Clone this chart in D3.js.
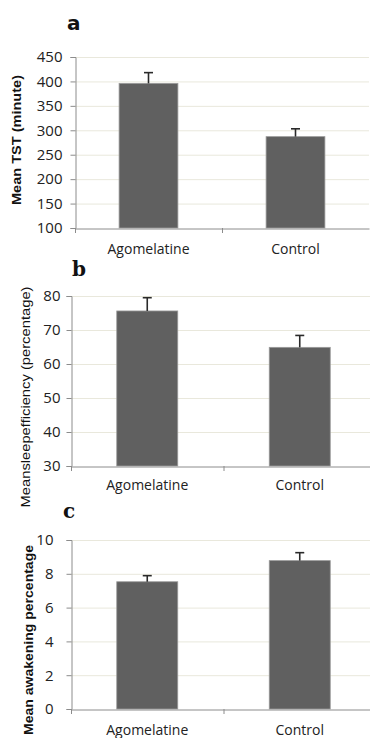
<!DOCTYPE html>
<html>
<head>
<meta charset="utf-8">
<script src="https://cdn.jsdelivr.net/npm/d3@7"></script>
<style>
  body { margin: 0; background: #fff; }
  svg { display: block; }
</style>
</head>
<body>
<div id="chart"></div>
<script>
// groups on the x axis
var groups = ["Agomelatine", "Control"];

// panel a: total sleep time
var tstMean = [396, 287];
var tstErr = [22, 16];
var tstTicks = [100, 150, 200, 250, 300, 350, 400, 450];

// panel b: sleep efficiency
var effMean = [75.6, 64.9];
var effErr = [3.9, 3.5];
var effTicks = [30, 40, 50, 60, 70, 80];

// panel c: awakening percentage
var awakeMean = [7.53, 8.78];
var awakeErr = [0.36, 0.47];
var awakeTicks = [0, 2, 4, 6, 8, 10];

var width = 370, height = 738;

var svg = d3.select("#chart").append("svg")
    .attr("width", width)
    .attr("height", height);

// draw one bar panel
function drawPanel(p) {
    var x = d3.scaleBand()
        .domain(groups)
        .range([p.left, p.right])
        .padding(0);

    var y = d3.scaleLinear()
        .domain([p.ticks[0], p.ticks[p.ticks.length - 1]])
        .range([p.bottom, p.top]);

    var g = svg.append("g");

    // gridlines
    g.selectAll("line.grid")
        .data(p.ticks.slice(1))
        .enter().append("line")
        .attr("class", "grid")
        .attr("x1", p.left)
        .attr("x2", p.right)
        .attr("y1", function(d) { return y(d) + 0.5; })
        .attr("y2", function(d) { return y(d) + 0.5; })
        .attr("stroke", "#e9e8dc")
        .attr("stroke-width", 1);

    // y axis
    var yAxis = g.append("g")
        .attr("transform", "translate(" + (p.left + 0.5) + ",0)")
        .call(d3.axisLeft(y).tickValues(p.ticks).tickSize(5).tickPadding(p.tickPad).tickFormat(d3.format("d")));
    yAxis.select(".domain").attr("stroke", "#8c8c8c");
    yAxis.selectAll(".tick line").attr("stroke", "#8c8c8c");
    yAxis.selectAll(".tick text")
        .attr("fill", "#222")
        .style("font-family", "'Open Sans', sans-serif")
        .style("font-size", "15px");

    // x axis
    var xAxis = g.append("g")
        .attr("transform", "translate(0," + (p.bottom + 0.5) + ")")
        .call(d3.axisBottom(x).tickSize(0).tickPadding(p.labelPad));
    xAxis.select(".domain").attr("stroke", "#8c8c8c");
    xAxis.selectAll(".tick text")
        .attr("fill", "#222")
        .style("font-family", "'Open Sans', sans-serif")
        .style("font-size", "14px");

    // category boundary ticks
    g.selectAll("line.sep")
        .data([0, 1])
        .enter().append("line")
        .attr("class", "sep")
        .attr("x1", function(d) { return p.left + d * x.step() + 0.5; })
        .attr("x2", function(d) { return p.left + d * x.step() + 0.5; })
        .attr("y1", p.bottom)
        .attr("y2", p.bottom + 5)
        .attr("stroke", "#8c8c8c");

    var bw = x.bandwidth() * 0.4;

    // bars
    g.selectAll("rect.bar")
        .data(p.mean)
        .enter().append("rect")
        .attr("class", "bar")
        .attr("x", function(d, i) { return x(groups[i]) + (x.bandwidth() - bw) / 2; })
        .attr("y", function(d) { return y(d); })
        .attr("width", bw)
        .attr("height", function(d) { return p.bottom - y(d); })
        .attr("fill", "#606060")
        .attr("stroke", "#9a9a9a")
        .attr("stroke-width", 0.8);

    // error bars, upper half only
    p.mean.forEach(function(m, i) {
        var cx = x(groups[i]) + x.bandwidth() / 2;
        g.append("line")
            .attr("x1", cx).attr("x2", cx)
            .attr("y1", y(m)).attr("y2", y(m + p.err[i]))
            .attr("stroke", "#2a2a2a").attr("stroke-width", 1.6);
        g.append("line")
            .attr("x1", cx - 4.5).attr("x2", cx + 4.5)
            .attr("y1", y(m + p.err[i])).attr("y2", y(m + p.err[i]))
            .attr("stroke", "#2a2a2a").attr("stroke-width", 1.6);
    });

    // y axis title, squeezed to the length seen in the figure
    g.append("text")
        .attr("transform", "translate(" + p.titleX + "," + p.titleY + ") rotate(-90)")
        .attr("text-anchor", "middle")
        .attr("textLength", p.titleLen)
        .attr("lengthAdjust", "spacingAndGlyphs")
        .style("font-family", "'Liberation Sans', Arial, sans-serif")
        .style("font-size", p.titleSize)
        .style("font-weight", p.titleWeight)
        .attr("fill", "#111")
        .text(p.title);

    // panel letter
    g.append("text")
        .attr("x", p.letterX)
        .attr("y", p.letterY)
        .style("font-family", p.letterFont)
        .style("font-size", "20px")
        .style("font-weight", "bold")
        .attr("fill", "#111")
        .text(p.letter);
}

drawPanel({
    mean: tstMean, err: tstErr, ticks: tstTicks,
    left: 75, right: 369, top: 57, bottom: 228,
    tickPad: 8, labelPad: 16,
    title: "Mean TST (minute)", titleX: 21, titleY: 140, titleLen: 130,
    titleSize: "12px", titleWeight: "bold",
    letter: "a", letterX: 67, letterY: 30, letterFont: "'DejaVu Sans', sans-serif"
});

drawPanel({
    mean: effMean, err: effErr, ticks: effTicks,
    left: 71, right: 376, top: 296, bottom: 466,
    tickPad: 6, labelPad: 14,
    title: "Meansleepefficiency (percentage)", titleX: 30, titleY: 397, titleLen: 221,
    titleSize: "12.5px", titleWeight: "normal",
    letter: "b", letterX: 72, letterY: 276, letterFont: "'DejaVu Serif', serif"
});

drawPanel({
    mean: awakeMean, err: awakeErr, ticks: awakeTicks,
    left: 71, right: 376, top: 540, bottom: 709,
    tickPad: 13, labelPad: 16,
    title: "Mean awakening percentage", titleX: 33, titleY: 640, titleLen: 190,
    titleSize: "13.5px", titleWeight: "bold",
    letter: "c", letterX: 63, letterY: 518, letterFont: "'DejaVu Serif', serif"
});
</script>
</body>
</html>
